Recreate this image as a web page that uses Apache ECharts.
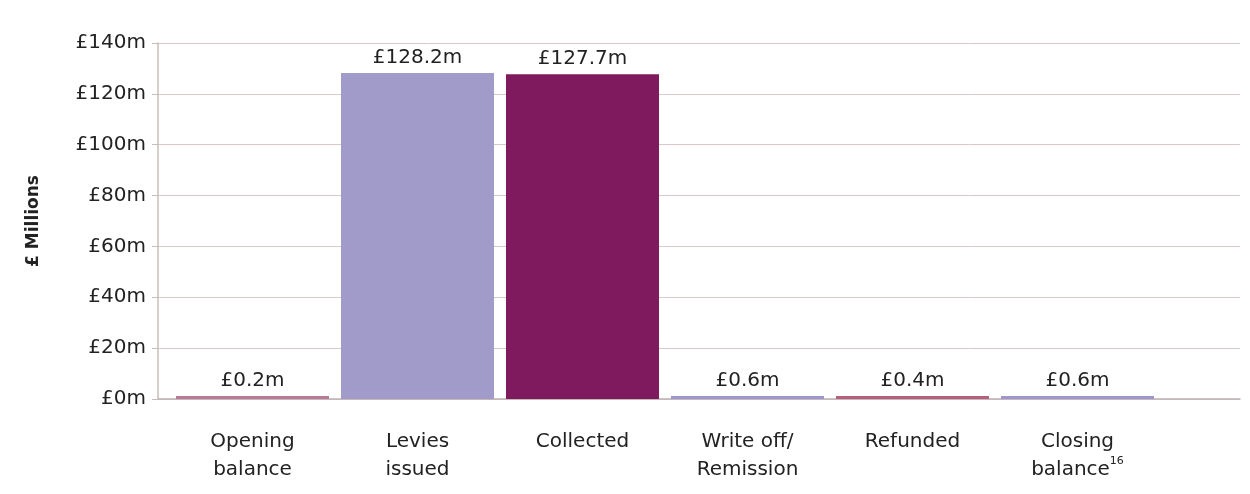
<!DOCTYPE html>
<html><head><meta charset="utf-8">
<script src="https://cdn.jsdelivr.net/npm/echarts@6/dist/echarts.min.js"></script>
<style>html,body{margin:0;padding:0;background:#fff}#c{width:1250px;height:494px}</style>
</head><body><div id="c"></div>
<script>
const categories = ['Opening\nbalance', 'Levies\nissued', 'Collected', 'Write off/\nRemission', 'Refunded', 'Closing\nbalance{sup|16}'];
const values = [0.2, 128.2, 127.7, 0.6, 0.4, 0.6];
const valueLabels = ['£0.2m', '£128.2m', '£127.7m', '£0.6m', '£0.4m', '£0.6m'];
const barColors = ['#b87a94', '#a09bc9', '#7e1a5d', '#9c96cc', '#b5607f', '#9c96cc'];
const yTicks = [0, 20, 40, 60, 80, 100, 120, 140];

const chart = echarts.init(document.getElementById('c'));
const font = '"DejaVu Sans", "Noto Sans", sans-serif';
chart.setOption({
  animation: false,
  grid: [
    {left: 158, right: 10, top: 43, bottom: 95},
    {left: 170, width: 990, top: 43, bottom: 95}
  ],
  xAxis: [
    {gridIndex: 0, type: 'category', data: [''], axisLine: {show: true, lineStyle: {color: '#bdb3b3', width: 1.5}}, axisTick: {show: false}, axisLabel: {show: false}},
    {gridIndex: 1, type: 'category', data: categories, axisLine: {show: false}, axisTick: {show: false},
      axisLabel: {interval: 0, margin: 29, color: '#222', fontFamily: font, fontSize: 20, lineHeight: 28, align: 'center',
        rich: {sup: {fontSize: 11, verticalAlign: 'top', color: '#222', fontFamily: font, padding: [0, 0, 10, 0]}}}}
  ],
  yAxis: [
    {gridIndex: 0, type: 'value', min: 0, max: 140, interval: 20,
      name: '£ Millions', nameLocation: 'middle', nameGap: 116, nameRotate: 90,
      nameTextStyle: {fontFamily: font, fontSize: 17, fontWeight: 'bold', color: '#222'},
      axisLine: {show: true, lineStyle: {color: '#cbbcbc', width: 1.5}},
      axisTick: {show: true, inside: false, length: 6, lineStyle: {color: '#cbbcbc'}},
      axisLabel: {margin: 12, color: '#222', fontFamily: font, fontSize: 20, formatter: v => '£' + v + 'm'},
      splitLine: {show: true, lineStyle: {color: '#d9c8c8', width: 1}}},
    {gridIndex: 1, type: 'value', min: 0, max: 140, interval: 20, show: false, splitLine: {show: false}}
  ],
  series: [{
    type: 'bar', xAxisIndex: 1, yAxisIndex: 1,
    barWidth: 153, barMinHeight: 3,
    data: values.map((v, i) => ({value: v, itemStyle: {color: barColors[i]}})),
    label: {show: true, position: 'top', distance: 5, color: '#222', fontFamily: font, fontSize: 20,
      formatter: p => valueLabels[p.dataIndex]}
  }]
});
</script></body></html>
